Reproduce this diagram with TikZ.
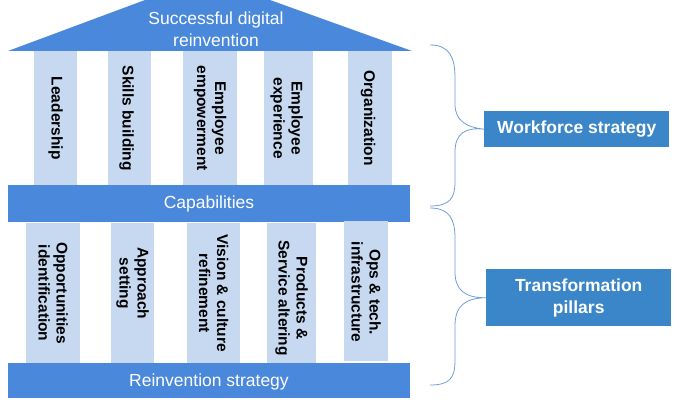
\documentclass[tikz,border=0pt]{standalone}
\usepackage{fontspec}
\setmainfont{Liberation Sans}
\begin{document}
\begin{tikzpicture}[x=1pt,y=-1pt,
  barblue/.style={fill=bar, draw=none},
  colbox/.style={fill=col, draw=none, inner sep=0pt, anchor=north west},
  coltext/.style={rotate=-90, align=center, font=\bfseries\fontsize{15.5}{18}\selectfont, text=black, inner sep=0pt},
  bartext/.style={text=white, font=\fontsize{17.5}{22}\selectfont, align=center, inner sep=0pt},
  sidebox/.style={fill=side, draw=none, text=white, font=\bfseries\fontsize{17.5}{22}\selectfont, align=center, inner sep=0pt, anchor=north west},
  bracel/.style={draw=brc, line width=0.8pt}
]
\definecolor{bar}{HTML}{4A88DC}
\definecolor{col}{HTML}{C6D9F1}
\definecolor{side}{HTML}{3A86C8}
\definecolor{brc}{HTML}{6E9EDB}
\useasboundingbox (0,0) rectangle (673,401);
% roof
\fill[bar] (8,51) -- (145,0) -- (270,0) -- (412,51) -- cycle;
\node[bartext] (roof) at (216,29) {Successful digital\\reinvention};
% top columns
\node[colbox, minimum width=43pt, minimum height=134pt] (t1) at (34,51) {};
\node[colbox, minimum width=43pt, minimum height=134pt] (t2) at (108,51) {};
\node[colbox, minimum width=54pt, minimum height=134pt] (t3) at (183,51) {};
\node[colbox, minimum width=49pt, minimum height=134pt] (t4) at (264,51) {};
\node[colbox, minimum width=44pt, minimum height=134pt] (t5) at (348,51) {};
\node[coltext] (tt1) at (t1.center) {Leadership};
\node[coltext] (tt2) at ([xshift=-3pt]t2.center) {Skills building};
\node[coltext] (tt3) at (t3.center) {Employee\\empowerment};
\node[coltext] (tt4) at ([xshift=-2pt]t4.center) {Employee\\experience};
\node[coltext] (tt5) at ([xshift=-2pt]t5.center) {Organization};
% capabilities bar
\fill[bar] (8,185) rectangle (410,222);
\node[bartext] (cap) at (209,204) {Capabilities};
% bottom columns
\node[colbox, minimum width=54pt, minimum height=140pt] (b1) at (26,223) {};
\node[colbox, minimum width=43pt, minimum height=140pt] (b2) at (111,223) {};
\node[colbox, minimum width=53pt, minimum height=140pt] (b3) at (187,223) {};
\node[colbox, minimum width=49pt, minimum height=140pt] (b4) at (267,223) {};
\node[colbox, minimum width=44pt, minimum height=140pt] (b5) at (344,221) {};
\node[coltext] (bt1) at (b1.center) {Opportunities\\identification};
\node[coltext] (bt2) at ([yshift=10pt]b2.center) {Approach\\setting};
\node[coltext] (bt3) at (b3.center) {Vision \& culture\\refinement};
\node[coltext] (bt4) at ([yshift=-5pt]b4.center) {Products \&\\Service altering};
\node[coltext] (bt5) at ([yshift=-1pt]b5.center) {Ops \& tech.\\infrastructure};
% reinvention bar
\fill[bar] (8,363) rectangle (410,398);
\node[bartext] (rs) at (209,382) {Reinvention strategy};
% side boxes
\node[sidebox, minimum width=185pt, minimum height=36pt] (ws) at (484,111) {Workforce strategy};
\node[sidebox, minimum width=185pt, minimum height=57pt] (tp) at (486,269) {Transformation\\pillars};
% braces
\coordinate (u1) at (430,45);
\coordinate (u2) at (430,206);
\coordinate (l1) at (430,208);
\coordinate (l2) at (430,385);
\draw[bracel] (u1) .. controls (450,45) and (455,58) .. (455,78) -- (455,104)
  .. controls (455,120) and (465,127) .. (ws.west)
  .. controls (465,127) and (455,134) .. (455,152) -- (455,182)
  .. controls (455,198) and (450,206) .. (u2);
\draw[bracel] (l1) .. controls (450,208) and (455,220) .. (455,238) -- (455,272)
  .. controls (455,290) and (465,298) .. (tp.west)
  .. controls (465,298) and (455,306) .. (455,326) -- (455,360)
  .. controls (455,378) and (450,385) .. (l2);
\end{tikzpicture}
\end{document}
